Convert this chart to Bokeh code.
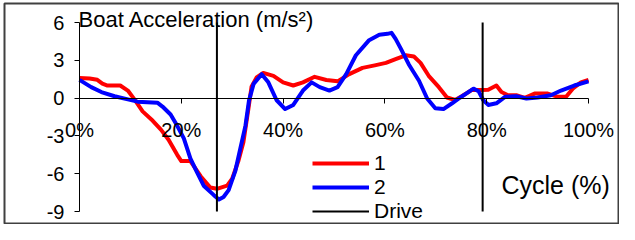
from bokeh.plotting import figure
from bokeh.models import LinearAxis, FixedTicker, Label, Legend, LegendItem, Range1d
from bokeh.embed import file_html
from bokeh.resources import INLINE

# ---- data ----
cycle_1 = [0, 2, 3.5, 4.5, 5.5, 8, 9.5, 10.8, 12.4, 14.4, 16, 17.5, 19.2, 20, 21.8,
           23.8, 25.7, 27, 29, 30, 31.2, 32.2, 33.2, 33.8, 34.8, 36.1, 38.1, 40, 42,
           43.9, 46.2, 48.5, 50.7, 53, 55.6, 58, 60.2, 62.1, 64.1, 65.7, 67, 68.6,
           70.6, 72.2, 73.8, 75.1, 77.1, 79, 80.3, 81.9, 82.9, 84.2, 85.8, 87.5, 89.4,
           92, 94, 95.6, 96.9, 98.5, 100]
accel_1 = [1.6, 1.55, 1.45, 1.15, 1.0, 1.0, 0.6, -0.1, -1.05, -1.8, -2.5, -3.3, -4.5,
           -5.0, -5.0, -6.2, -7.1, -7.2, -6.95, -6.4, -5.0, -3.5, -0.8, 0.9, 1.64, 2.0,
           1.77, 1.25, 1.0, 1.25, 1.69, 1.44, 1.33, 1.9, 2.4, 2.6, 2.8, 3.1, 3.4, 3.3,
           2.8, 1.77, 0.87, 0.05, -0.15, 0.15, 0.65, 0.65, 0.67, 1.0, 0.48, 0.23, 0.23,
           0.02, 0.36, 0.36, 0.1, 0.1, 0.75, 1.25, 1.45]

cycle_2 = [0, 2.3, 4.3, 6.9, 9.5, 11.4, 15.3, 16.3, 17.9, 19.2, 20.5, 21.8, 23.1, 24.4,
           26.4, 27.4, 28.3, 29.3, 30.6, 31.6, 32.6, 33.3, 34.2, 35.8, 37.1, 38.7, 40.4,
           42, 43.9, 45.6, 47.2, 49.1, 50.7, 52.4, 54.3, 56.9, 58.9, 60.5, 61.3, 62.1,
           63.1, 64.7, 66.7, 68.3, 69.9, 71.5, 73.2, 74.8, 76.1, 77.4, 78.4, 79.3, 80.3,
           81.9, 83.6, 85.8, 87.8, 90, 92.6, 94.6, 97.2, 100]
accel_2 = [1.45, 0.87, 0.48, 0.15, -0.1, -0.28, -0.36, -0.67, -1.3, -2.2, -3.2, -4.8,
           -5.9, -6.95, -7.7, -8.05, -7.85, -7.3, -5.8, -4.0, -2.2, -0.2, 1.13, 1.9,
           1.25, -0.15, -0.87, -0.54, 0.6, 1.25, 0.87, 0.6, 0.87, 1.9, 3.4, 4.6, 5.03,
           5.1, 5.18, 4.7, 3.95, 2.67, 1.38, -0.03, -0.8, -0.87, -0.41, 0.05, 0.4, 0.75,
           0.55, -0.15, -0.54, -0.41, 0.1, 0.15, -0.03, 0.05, 0.23, 0.6, 1.0, 1.33]

drive_cycle = [27.0, 79.2]
drive_top = [6, 6]
drive_bottom = [-9, -9]

x_ticks = [0, 20, 40, 60, 80, 100]
x_tick_labels = ["0%", "20%", "40%", "60%", "80%", "100%"]
y_ticks = [-9, -6, -3, 0, 3, 6]
y_tick_labels = ["-9", "-6", "-3", "0", "3", "6"]
series_names = ["1", "2", "Drive"]
title_text = "Boat Acceleration (m/s\u00b2)"
x_title_text = "Cycle (%)"

FONT = "Liberation Sans"

p = figure(width=619, height=224, output_backend="svg", toolbar_location=None,
           x_range=Range1d(-14.73, 105.89), y_range=Range1d(-10.03, 7.508),
           x_axis_location=None, y_axis_location=None,
           min_border_left=4, min_border_top=3, min_border_right=1, min_border_bottom=0)
for g in p.grid:
    g.visible = False
p.outline_line_color = "#404040"
p.outline_line_width = 2
p.outline_line_alpha = 1.0
p.background_fill_color = "white"
p.border_fill_color = "white"

xaxis = LinearAxis(fixed_location=0, ticker=FixedTicker(ticks=x_ticks),
                   major_label_overrides={t: l for t, l in zip(x_ticks, x_tick_labels)},
                   bounds=(0, 100), major_tick_in=0, major_tick_out=5,
                   minor_tick_in=0, minor_tick_out=0, major_label_standoff=16,
                   major_label_text_font=FONT, major_label_text_font_size="20px",
                   major_label_text_color="black",
                   axis_line_color="black", major_tick_line_color="black")
p.add_layout(xaxis, "below")

yaxis = LinearAxis(fixed_location=0, ticker=FixedTicker(ticks=y_ticks),
                   major_label_overrides={t: l for t, l in zip(y_ticks, y_tick_labels)},
                   bounds=(-9, 6), major_tick_in=0, major_tick_out=5,
                   minor_tick_in=0, minor_tick_out=0, major_label_standoff=10,
                   major_label_text_font=FONT, major_label_text_font_size="20px",
                   major_label_text_color="black",
                   axis_line_color="black", major_tick_line_color="black")
p.add_layout(yaxis, "left")

r1 = p.line(cycle_1, accel_1, line_color="#FF0000", line_width=4, line_join="round")
r2 = p.line(cycle_2, accel_2, line_color="#0000FF", line_width=4, line_join="round")
rd = p.segment(x0=drive_cycle, y0=drive_top, x1=drive_cycle, y1=drive_bottom,
               line_color="black", line_width=2)

p.add_layout(Label(x=0, y=6, x_offset=-1, y_offset=3, text=title_text,
                   text_font=FONT, text_font_size="22px", text_baseline="alphabetic",
                   text_color="black"))
p.add_layout(Label(x=82.9, y=-6.86, text=x_title_text,
                   text_font=FONT, text_font_size="25px", text_baseline="alphabetic",
                   text_color="black"))

legend = Legend(items=[LegendItem(label=series_names[0], renderers=[r1]),
                       LegendItem(label=series_names[1], renderers=[r2]),
                       LegendItem(label=series_names[2], renderers=[rd])],
                location=(308, 1), orientation="vertical",
                glyph_width=57, glyph_height=24, label_height=24, spacing=0,
                padding=0, margin=0, label_standoff=5,
                label_text_font=FONT, label_text_font_size="21px",
                label_text_color="black",
                background_fill_alpha=0, border_line_color=None)
p.add_layout(legend)

open("out.html", "w").write(file_html(p, INLINE))
